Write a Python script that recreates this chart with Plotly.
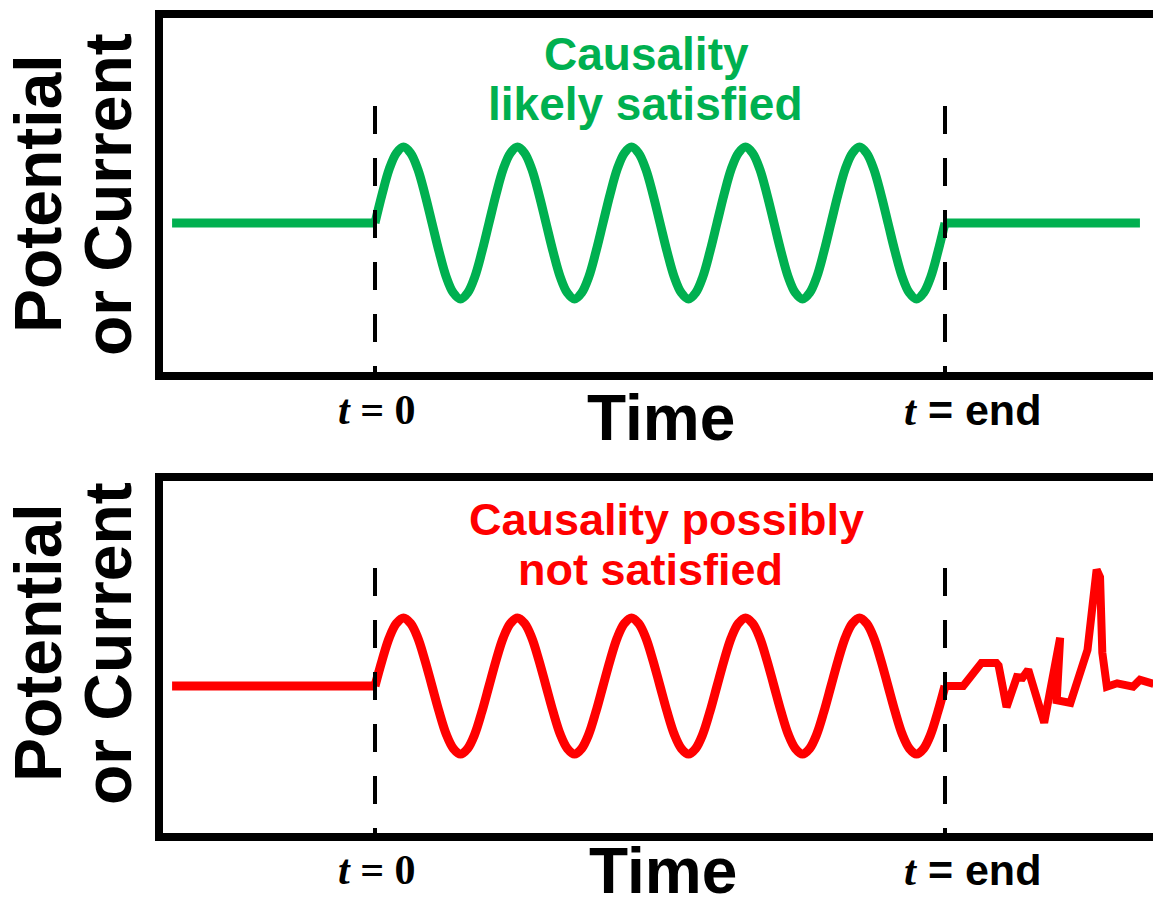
import plotly.graph_objects as go

# ---------------- data (time in periods, amplitude in units) ----------------
flat_before_t = [-1.78, 0.0]
flat_before_y = [0.0, 0.0]

# one period of the drawn oscillation, read at 1/16-period steps
one_cycle_y = [0, 0.38, 0.71, 0.92, 1, 0.92, 0.71, 0.38,
               0, -0.38, -0.71, -0.92, -1, -0.92, -0.71, -0.38]
n_cycles = 5
wave_y = one_cycle_y * n_cycles + [0]
wave_t = [i / 16 for i in range(len(wave_y))]

flat_after_t = [5.0, 6.71]
flat_after_y = [0.0, 0.0]

noise_t = [5.0, 5.16, 5.32, 5.45, 5.47, 5.54, 5.63, 5.68, 5.73, 5.87, 6.01,
           5.98, 6.10, 6.25, 6.33, 6.36, 6.38, 6.42, 6.51, 6.65, 6.71, 6.80, 6.83]
noise_y = [0.0, 0.0, 0.34, 0.34, 0.30, -0.31, 0.13, 0.12, 0.24, -0.54, 0.71,
           -0.21, -0.25, 0.53, 1.71, 1.60, 0.49, -0.01, 0.04, -0.01, 0.09, 0.04, 0.03]

marker_t = [0.0, 5.0]          # t = 0 and t = end

GREEN = "#00B050"
RED = "#FF0000"
W, H = 1153, 909
LW = 9

fig = go.Figure()

# top panel traces
fig.add_trace(go.Scatter(x=flat_before_t, y=flat_before_y, mode="lines",
                         line=dict(color=GREEN, width=LW), xaxis="x", yaxis="y"))
fig.add_trace(go.Scatter(x=wave_t, y=wave_y, mode="lines",
                         line=dict(color=GREEN, width=LW, shape="spline", smoothing=1.0),
                         xaxis="x", yaxis="y"))
fig.add_trace(go.Scatter(x=flat_after_t, y=flat_after_y, mode="lines",
                         line=dict(color=GREEN, width=LW), xaxis="x", yaxis="y"))

# bottom panel traces
fig.add_trace(go.Scatter(x=flat_before_t, y=flat_before_y, mode="lines",
                         line=dict(color=RED, width=LW), xaxis="x2", yaxis="y2"))
fig.add_trace(go.Scatter(x=wave_t, y=wave_y, mode="lines",
                         line=dict(color=RED, width=LW, shape="spline", smoothing=1.0),
                         xaxis="x2", yaxis="y2"))
fig.add_trace(go.Scatter(x=noise_t, y=noise_y, mode="lines",
                         line=dict(color=RED, width=8), xaxis="x2", yaxis="y2"))

# ---------------- layout ----------------
def px_x(p):
    return p / W

def px_y(p):
    return 1 - p / H

x_range = [(163 - 375) / 114, (1153 - 375) / 114]
axis_common = dict(showgrid=False, zeroline=False, showticklabels=False, ticks="",
                   showline=True, linecolor="black", linewidth=8)

fig.update_layout(
    width=W, height=H,
    margin=dict(l=0, r=0, t=0, b=0),
    paper_bgcolor="white", plot_bgcolor="white",
    showlegend=False,
    xaxis=dict(axis_common, domain=[px_x(163), 1.0], range=x_range, mirror=True, anchor="y"),
    yaxis=dict(axis_common, domain=[px_y(372), px_y(18)],
               range=[-(372 - 223) / 76, (223 - 18) / 76], anchor="x"),
    xaxis2=dict(axis_common, domain=[px_x(163), 1.0], range=x_range, mirror=True, anchor="y2"),
    yaxis2=dict(axis_common, domain=[px_y(833), px_y(481)],
                range=[-(833 - 686) / 68, (686 - 481) / 68], anchor="x2"),
)

# dashed markers
dash_tops = {"y": (223 - 106) / 76, "y2": (686 - 568) / 68}
dash_bottoms = {"y": -(372 - 223) / 76, "y2": -(833 - 686) / 68}
for xr, yr in [("x", "y"), ("x2", "y2")]:
    for t in marker_t:
        fig.add_shape(type="line", xref=xr, yref=yr, x0=t, x1=t,
                      y0=dash_tops[yr], y1=dash_bottoms[yr],
                      line=dict(color="black", width=4, dash="28px,24px"),
                      layer="above")

SANS = "Liberation Sans"
SERIF = "Liberation Serif"

def ann(text, x, y, size, color="black", angle=0, xanchor="center", yanchor="middle",
        family=SANS):
    fig.add_annotation(text=text, x=px_x(x), y=px_y(y), xref="paper", yref="paper",
                       showarrow=False, xanchor=xanchor, yanchor=yanchor,
                       textangle=angle, font=dict(family=family, size=size, color=color))

# y titles
for cy in (194, 643):
    ann("<b>Potential</b>", 38, cy, 66, angle=-90)
    ann("<b>or Current</b>", 108, cy, 66, angle=-90)

# x titles and markers
ann("<b>Time</b>", 661, 418, 64)
ann("<b>Time</b>", 663, 909, 64, yanchor="bottom")
for cy_t in (410, 870):
    ann(f'<span style="font-family:{SERIF}"><b><i>t</i> = 0</b></span>', 336, cy_t, 42,
        xanchor="left", family=SERIF)
    ann(f'<span style="font-family:{SERIF}"><b><i>t</i></b></span><b> = end</b>', 902, cy_t, 43,
        xanchor="left")

# panel notes
ann("<b>Causality</b>", 646, 54, 46, color=GREEN)
ann("<b>likely satisfied</b>", 645, 104, 46, color=GREEN)
ann("<b>Causality possibly</b>", 666, 519, 45, color=RED)
ann("<b>not satisfied</b>", 650, 569, 45, color=RED)

fig.write_html("out.html", config={"displayModeBar": False},
               post_script="document.body.style.margin='0';document.body.style.overflow='hidden';")
